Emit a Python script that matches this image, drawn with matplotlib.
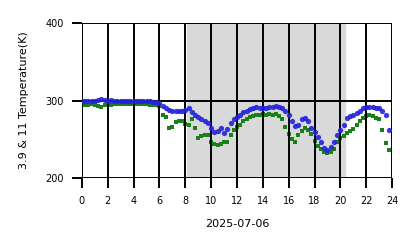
import numpy as np
import matplotlib
matplotlib.use('Agg')
import matplotlib.pyplot as plt

# hours of day, one sample every 15 minutes
hours = np.arange(0, 24, 0.25)

# 3.9 um brightness temperature (K)
t39 = [299, 299, 299, 300, 300, 301, 302, 301, 300, 301, 300, 300,
       300, 299, 300, 299, 299, 299, 299, 299, 299, 299, 298, 298,
       297, 293, 291, 288, 286, 287, 286, 287, 288, 290, 285, 282,
       279, 276, 274, 271, 264, 259, 261, 264, 258, 263, 271, 276,
       279, 282, 285, 287, 289, 290, 292, 291, 290, 291, 292, 292,
       293, 292, 291, 287, 281, 274, 267, 269, 276, 277, 273, 265,
       260, 253, 246, 239, 236, 240, 246, 255, 262, 268, 277, 280,
       281, 284, 287, 290, 292, 292, 292, 291, 290, 287, 281, 262]

# 11 um brightness temperature (K)
t11 = [294, 294, 294, 295, 294, 293, 292, 294, 294, 294, 295, 295,
       295, 295, 295, 295, 295, 295, 295, 295, 295, 294, 294, 294,
       293, 281, 279, 264, 266, 272, 273, 273, 270, 268, 276, 265,
       252, 254, 255, 256, 247, 244, 243, 244, 246, 247, 255, 262,
       266, 268, 273, 276, 279, 280, 281, 282, 283, 282, 283, 282,
       283, 280, 276, 266, 257, 250, 247, 255, 261, 264, 262, 257,
       248, 242, 238, 233, 232, 234, 238, 247, 252, 254, 258, 261,
       263, 268, 273, 277, 280, 281, 280, 278, 276, 262, 245, 236]

night_end = 8.15
night_start = 20.35

fig = plt.figure(figsize=(4.18, 2.48), dpi=100)
ax = fig.add_axes([0.196, 0.282, 0.742, 0.625])

ax.axvspan(night_end, night_start, color='#d9d9d9', zorder=0)
ax.plot(hours, t11, 's', color='#1a801a', ms=2.7, mew=0, zorder=2)
ax.plot(hours, t39, 'o', color='#2222dd', ms=3.8, mew=0, alpha=0.9, zorder=3)

ax.set_xlim(0, 24)
ax.set_ylim(200, 400)
ax.set_xticks(range(0, 25, 2))
ax.set_yticks([200, 300, 400])
ax.grid(True, color='black', linewidth=1.4, zorder=5)
ax.set_axisbelow(False)
for s in ax.spines.values():
    s.set_visible(False)
ax.tick_params(direction='out', length=7, width=1.4, labelsize=7, pad=6)
ax.tick_params(axis='y', pad=6)

ax.set_xlabel('2025-07-06', fontsize=8, labelpad=9)
ax.set_ylabel('3.9 & 11 Temperature(K)', fontsize=8, labelpad=12)

fig.savefig('out.png', dpi=100)
